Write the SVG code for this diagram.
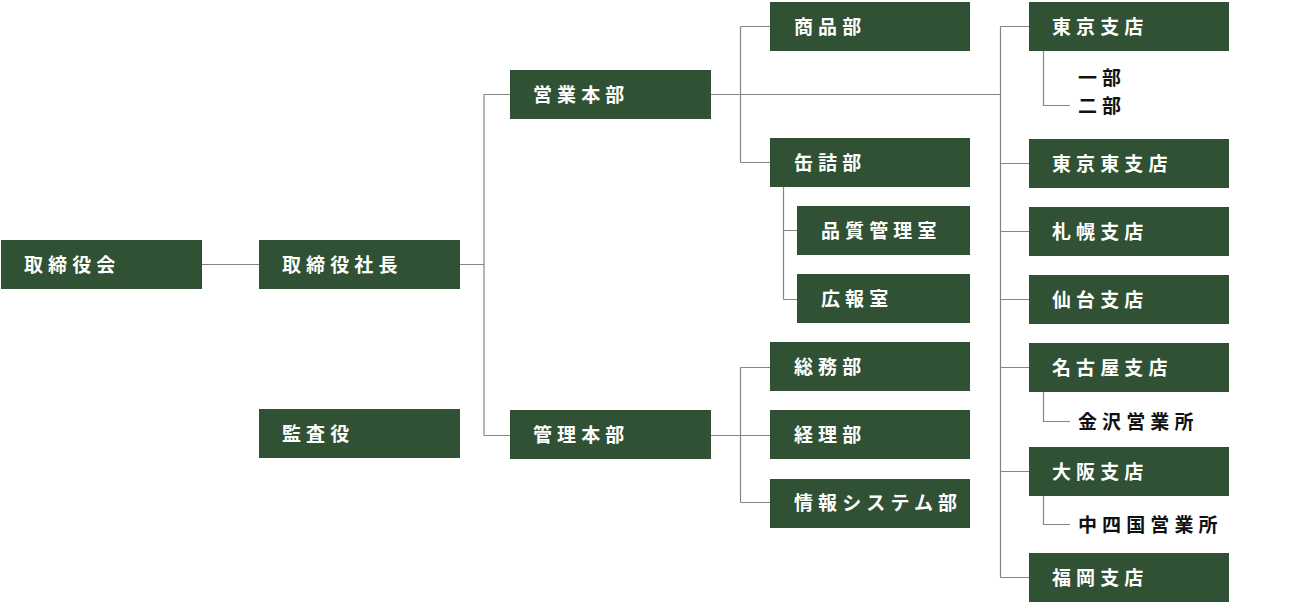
<svg xmlns="http://www.w3.org/2000/svg" width="1290" height="605" viewBox="0 0 1290 605">
<style>
.box{fill:#305133}
.t{font-family:"Noto Sans CJK JP","Noto Sans",sans-serif;font-size:19px;letter-spacing:5.1px;font-weight:bold;fill:#ffffff;dominant-baseline:central}
.s{font-family:"Noto Sans CJK JP","Noto Sans",sans-serif;font-size:19px;letter-spacing:5.1px;font-weight:bold;fill:#111111;dominant-baseline:central}
.c{fill:none;stroke:#858585;stroke-width:1.2}
</style>
<rect width="1290" height="605" fill="#ffffff"/>
<g id="connectors">
<path class="c" d="M202 264.5H259"/>
<path class="c" d="M460 264.5H484M484 94.5V435.5M484 94.5H510M484 435.5H510"/>
<path class="c" d="M711 94.5H1000M740.5 26.5V162.5M740.5 26.5H770M740.5 162.5H770"/>
<path class="c" d="M783.5 187V299.5M783.5 230.5H797M783.5 299.5H797"/>
<path class="c" d="M711 435.5H770M740.5 367.5V502.5M740.5 367.5H770M740.5 502.5H770"/>
<path class="c" d="M1000.5 26.5V577.5M1000.5 26.5H1029M1000.5 163.5H1029M1000.5 231.5H1029M1000.5 299.5H1029M1000.5 367.5H1029M1000.5 471.5H1029M1000.5 577.5H1029"/>
<path class="c" d="M1043.5 51V105.5H1070"/>
<path class="c" d="M1043.5 392V421.5H1070"/>
<path class="c" d="M1043.5 496V524.5H1070"/>
</g>
<g id="n1"><rect class="box" x="1" y="240" width="201" height="49"/><text class="t" x="24" y="263">取締役会</text></g>
<g id="n2"><rect class="box" x="259" y="240" width="201" height="49"/><text class="t" x="282" y="263">取締役社長</text></g>
<g id="n3"><rect class="box" x="259" y="409" width="201" height="49"/><text class="t" x="282" y="432">監査役</text></g>
<g id="n4"><rect class="box" x="510" y="70" width="201" height="49"/><text class="t" x="533" y="93">営業本部</text></g>
<g id="n5"><rect class="box" x="510" y="410" width="201" height="49"/><text class="t" x="533" y="433">管理本部</text></g>
<g id="n6"><rect class="box" x="770" y="2" width="200" height="49"/><text class="t" x="794" y="25">商品部</text></g>
<g id="n7"><rect class="box" x="770" y="138" width="200" height="49"/><text class="t" x="794" y="161">缶詰部</text></g>
<g id="n8"><rect class="box" x="797" y="206" width="173" height="49"/><text class="t" x="821" y="229">品質管理室</text></g>
<g id="n9"><rect class="box" x="797" y="274" width="173" height="49"/><text class="t" x="821" y="297">広報室</text></g>
<g id="n10"><rect class="box" x="770" y="342" width="200" height="49"/><text class="t" x="794" y="365">総務部</text></g>
<g id="n11"><rect class="box" x="770" y="410" width="200" height="49"/><text class="t" x="794" y="433">経理部</text></g>
<g id="n12"><rect class="box" x="770" y="479" width="200" height="49"/><text class="t" x="794" y="501">情報システム部</text></g>
<g id="n13"><rect class="box" x="1029" y="2" width="200" height="49"/><text class="t" x="1052" y="25">東京支店</text></g>
<g id="n14"><text class="s" x="1078" y="76">一部</text><text class="s" x="1078" y="104">二部</text></g>
<g id="n15"><rect class="box" x="1029" y="139" width="200" height="49"/><text class="t" x="1052" y="162">東京東支店</text></g>
<g id="n16"><rect class="box" x="1029" y="207" width="200" height="49"/><text class="t" x="1052" y="230">札幌支店</text></g>
<g id="n17"><rect class="box" x="1029" y="275" width="200" height="49"/><text class="t" x="1052" y="298">仙台支店</text></g>
<g id="n18"><rect class="box" x="1029" y="343" width="200" height="49"/><text class="t" x="1052" y="366">名古屋支店</text></g>
<g id="n19"><text class="s" x="1078" y="420">金沢営業所</text></g>
<g id="n20"><rect class="box" x="1029" y="447" width="200" height="49"/><text class="t" x="1052" y="470">大阪支店</text></g>
<g id="n21"><text class="s" x="1078" y="523">中四国営業所</text></g>
<g id="n22"><rect class="box" x="1029" y="553" width="200" height="49"/><text class="t" x="1052" y="576">福岡支店</text></g>
</svg>
